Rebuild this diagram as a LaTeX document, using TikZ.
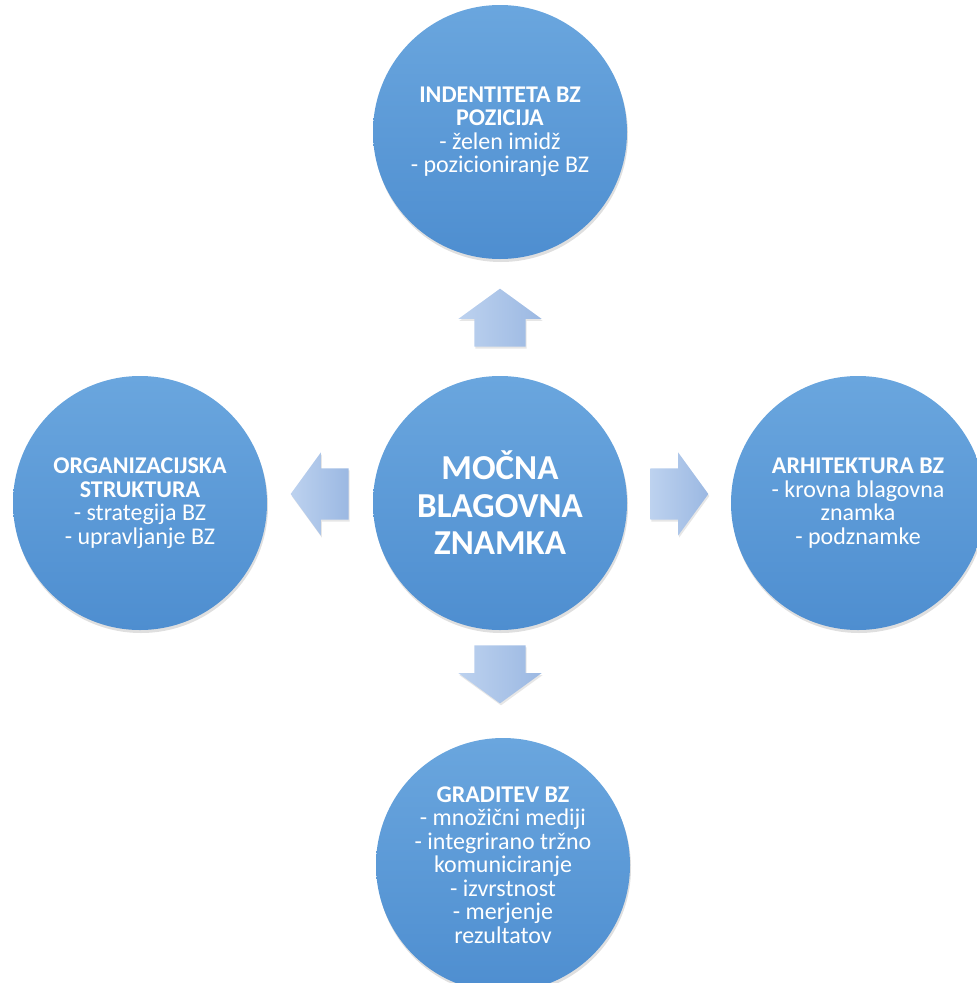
\documentclass[tikz,border=0pt]{standalone}
\usepackage{fontspec}
\setmainfont{Carlito}
\usetikzlibrary{shapes.arrows,shadows}
\definecolor{circtop}{HTML}{6AA6DE}
\definecolor{circbot}{HTML}{4E8ED0}
\definecolor{arrlight}{HTML}{BDD2EF}
\definecolor{arrdark}{HTML}{9BB8E2}
\begin{document}
\begin{tikzpicture}[x=1pt,y=-1pt]
        \tikzset{topic/.style={circle,minimum size=254pt,inner sep=0pt,
                top color=circtop,bottom color=circbot,text=white,align=center,
                font=\fontsize{24}{23.5}\selectfont,
                drop shadow={opacity=0.25,shadow xshift=1pt,shadow yshift=-3pt}},
            core/.style={topic,font=\bfseries\fontsize{35}{37.5}\selectfont},
            push/.style={single arrow,single arrow head extend=16pt,
                single arrow tip angle=108,minimum height=58pt,
                inner xsep=0pt,inner ysep=25.5pt,left color=arrlight,right color=arrdark,
                drop shadow={opacity=0.2,shadow xshift=1pt,shadow yshift=-2pt}}}
        \useasboundingbox (0,0) rectangle (977,983);
        \node[core] (brand) at (500,503) {MOČNA\\BLAGOVNA\\ZNAMKA};
        \node[topic] (identity) at (500,132)
            {\textbf{INDENTITETA BZ}\\\textbf{POZICIJA}\\- želen imidž\\- pozicioniranje BZ};
        \node[topic] (organisation) at (140,503)
            {\textbf{ORGANIZACIJSKA}\\\textbf{STRUKTURA}\\- strategija BZ\\- upravljanje BZ};
        \node[topic] (architecture) at (858,503)
            {\textbf{ARHITEKTURA BZ}\\- krovna blagovna\\znamka\\- podznamke};
        \node[topic] (building) at (503,865)
            {\textbf{GRADITEV BZ}\\- množični mediji\\- integrirano tržno\\komuniciranje\\- izvrstnost\\- merjenje\\rezultatov};
        % block arrows out of the centre
        \node[push,rotate=90] (toidentity) at (500,327) {};
        \node[push,rotate=-90] (tobuilding) at (500,665) {};
        \node[push,rotate=180] (toorganisation) at (329,494) {};
        \node[push] (toarchitecture) at (670,494) {};
\end{tikzpicture}
\end{document}
